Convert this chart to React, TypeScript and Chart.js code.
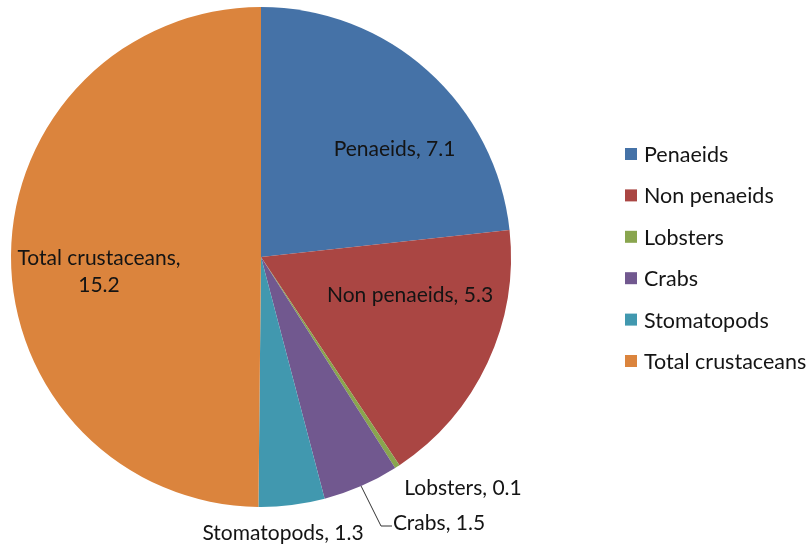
import React, { useEffect, useRef } from "react";
import { Chart, registerables } from "chart.js";

Chart.register(...registerables);

const categories = ["Penaeids", "Non penaeids", "Lobsters", "Crabs", "Stomatopods", "Total crustaceans"];
const values = [7.1, 5.3, 0.1, 1.5, 1.3, 15.2];
const colors = ["#4572A7", "#AA4643", "#89A54E", "#71588F", "#4198AF", "#DB843D"];

// label placement relative to pie centre, in units of radius (style only)
const labelPos: [number, number][] = [
  [0.534, -0.432],
  [0.596, 0.152],
  [0.808, 0.924],
  [0.712, 1.064],
  [0.088, 1.104],
  [-0.648, 0.004],
];

const FONT_FAMILY = "Lato, 'Open Sans', sans-serif";
const FONT_SIZE = 21;
const LEGEND_FONT_SIZE = 21.5;
const TEXT_COLOR = "#141414";

const labelPlugin = {
  id: "customLabels",
  afterDraw(chart: any) {
    const ctx = chart.ctx;
    const meta = chart.getDatasetMeta(0);
    const a0 = meta.data[0];
    const cx = a0.x, cy = a0.y, r = a0.outerRadius;
    ctx.save();
    ctx.font = `${FONT_SIZE}px ${FONT_FAMILY}`;
    ctx.fillStyle = TEXT_COLOR;
    ctx.textAlign = "center";
    ctx.textBaseline = "middle";
    categories.forEach((c, i) => {
      const [fx, fy] = labelPos[i];
      const x = cx + fx * r, y = cy + fy * r;
      if (i === 5) {
        ctx.fillText(`${c},`, x, y);
        ctx.fillText(`${values[i]}`, x, y + 27);
      } else {
        ctx.fillText(`${c}, ${values[i]}`, x, y);
      }
    });
    // leader line for Crabs
    const crab = meta.data[3];
    const mid = (crab.startAngle + crab.endAngle) / 2;
    const sx = cx + r * Math.cos(mid), sy = cy + r * Math.sin(mid);
    ctx.strokeStyle = "#333";
    ctx.lineWidth = 1;
    ctx.beginPath();
    ctx.moveTo(sx, sy);
    ctx.lineTo(cx + 0.48 * r, cy + 1.076 * r);
    ctx.lineTo(cx + 0.524 * r, cy + 1.076 * r);
    ctx.stroke();

    // legend
    const lx = 625, ly0 = 154, step = 41.4;
    ctx.textAlign = "left";
    ctx.font = `${LEGEND_FONT_SIZE}px ${FONT_FAMILY}`;
    categories.forEach((c, i) => {
      const y = ly0 + i * step;
      ctx.fillStyle = colors[i];
      ctx.fillRect(lx, y - 6, 12, 12);
      ctx.fillStyle = TEXT_COLOR;
      ctx.fillText(c, lx + 19, y + 1);
    });
    ctx.restore();
  },
};

export default function App() {
  const ref = useRef<HTMLCanvasElement>(null);
  useEffect(() => {
    document.body.style.margin = "0";
    const chart = new Chart(ref.current!, {
      type: "pie",
      data: {
        labels: categories,
        datasets: [
          {
            data: values,
            backgroundColor: colors,
            borderWidth: 0,
            hoverOffset: 0,
          },
        ],
      },
      options: {
        responsive: false,
        animation: false,
        layout: { padding: { left: 11, top: 7, right: 297, bottom: 40 } },
        plugins: {
          legend: { display: false },
          tooltip: { enabled: false },
        },
      },
      plugins: [labelPlugin],
    });
    return () => chart.destroy();
  }, []);
  return (
    <div style={{ position: "absolute", left: 0, top: 0, width: 808, height: 547, background: "#fff" }}>
      <canvas ref={ref} width={808} height={547} />
    </div>
  );
}
